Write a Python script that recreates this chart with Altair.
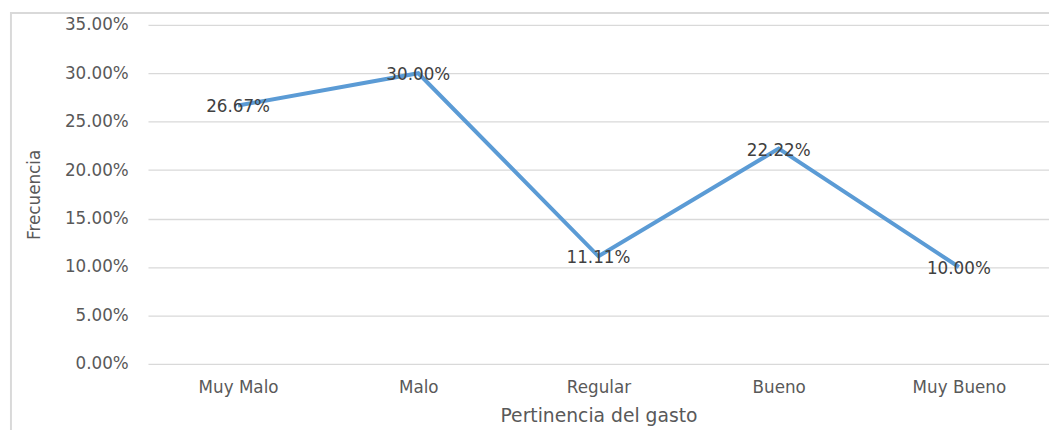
import altair as alt
import pandas as pd

categorias = ["Muy Malo", "Malo", "Regular", "Bueno", "Muy Bueno"]
frecuencias = [0.2667, 0.30, 0.1111, 0.2222, 0.10]
etiquetas = ["26.67%", "30.00%", "11.11%", "22.22%", "10.00%"]
y_ticks = [0, 0.05, 0.10, 0.15, 0.20, 0.25, 0.30, 0.35]

df = pd.DataFrame({"cat": categorias, "val": frecuencias, "lab": etiquetas})

W, H = 914, 344
FONT = "DejaVu Sans"

x_enc = alt.X("cat:N", sort=categorias,
              scale=alt.Scale(paddingInner=0, paddingOuter=0.5),
              axis=alt.Axis(title="Pertinencia del gasto", labelAngle=0, labelFont=FONT,
                            labelFontSize=17, labelColor="#595959", labelPadding=16,
                            titleFont=FONT, titleFontSize=19, titleColor="#595959",
                            titleFontWeight="normal", titlePadding=11,
                            domain=False, ticks=False, grid=False))
y_enc = alt.Y("val:Q", scale=alt.Scale(domain=[0, 0.35], nice=False),
              axis=alt.Axis(title="Frecuencia", format=".2%", values=y_ticks,
                            labelFont=FONT, labelFontSize=17, labelColor="#595959",
                            labelPadding=20, titleFont=FONT, titleFontSize=17,
                            titleColor="#595959", titleFontWeight="normal",
                            titlePadding=21, domain=False, ticks=False,
                            grid=True, gridColor="#d9d9d9", gridWidth=1.3))

base = alt.Chart(df)

frame = base.mark_rect(fill=None, stroke="#d9d9d9", strokeWidth=2).encode(
    x=alt.value(-139), x2=alt.value(W + 20), y=alt.value(-12), y2=alt.value(H + 90)
).transform_filter(alt.datum.cat == "Muy Malo")

line = base.mark_line(color="#5b9bd5", strokeWidth=4).encode(x=x_enc, y=y_enc)

text = base.mark_text(font=FONT, fontSize=17, color="#404040", baseline="middle", dy=2).encode(
    x=alt.X("cat:N", sort=categorias), y="val:Q", text="lab:N")

chart = alt.layer(frame, line, text).properties(
    width=W, height=H,
    autosize=alt.AutoSizeParams(type="none"),
    padding={"left": 142, "top": 14, "right": 0, "bottom": 64},
).configure(background="white").configure_view(stroke=None)

chart.save("out.html", embed_options={"renderer": "svg", "actions": False})
